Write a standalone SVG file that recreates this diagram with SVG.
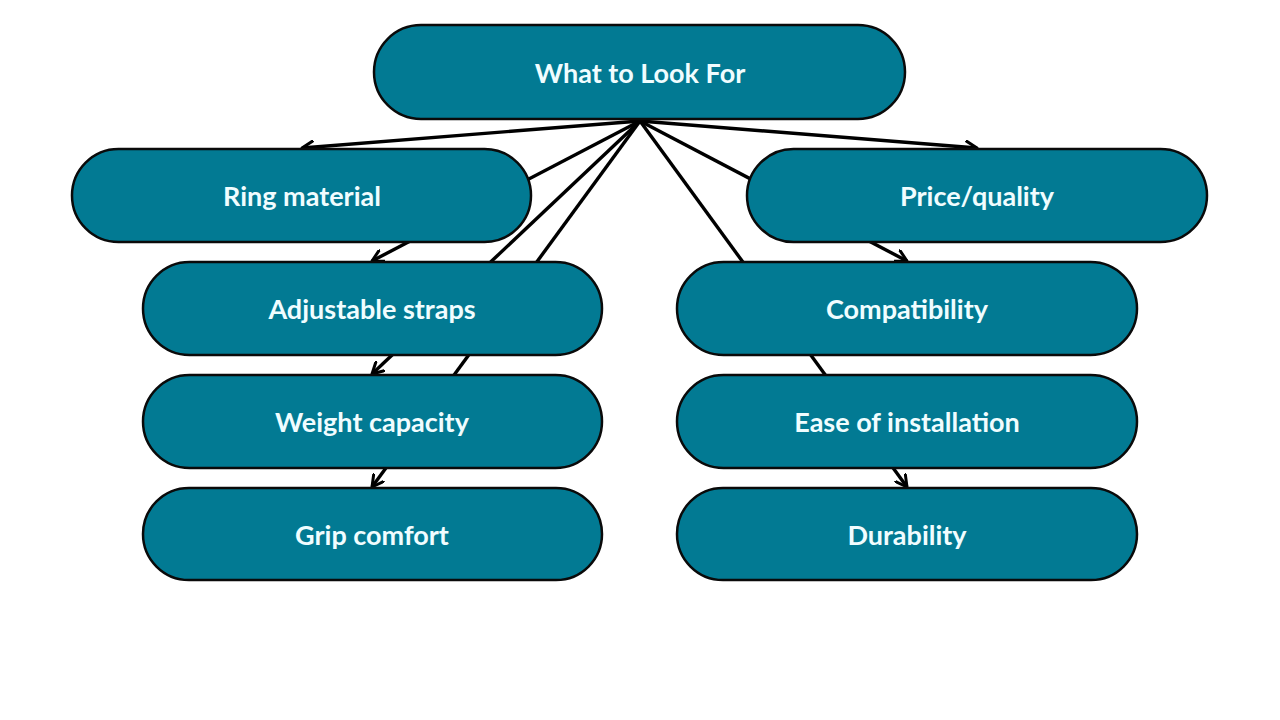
<svg xmlns="http://www.w3.org/2000/svg" width="1280" height="720" viewBox="0 0 1280 720">
<style>
.node rect{fill:#027a93;stroke:#0a0a0a;stroke-width:2.5}
.node text{fill:#f0fdff;font-family:Lato,"Noto Sans",sans-serif;font-weight:bold;font-size:27px;text-anchor:middle;dominant-baseline:central}
.edge{stroke:#000;stroke-width:3.4;fill:none;marker-end:url(#arr)}
</style>
<defs>
<marker id="arr" viewBox="0 0 14 14" refX="12" refY="7" markerWidth="14" markerHeight="14" markerUnits="userSpaceOnUse" orient="auto">
<path d="M1,1 L12,7 L1,13" fill="none" stroke="#000" stroke-width="3" stroke-linecap="round" stroke-linejoin="round"/>
</marker>
</defs>
<rect width="1280" height="720" fill="#fff"/>
<g id="connectors">
<line class="edge" x1="640" y1="121" x2="302" y2="148"/>
<line class="edge" x1="640" y1="121" x2="977" y2="148"/>
<line class="edge" x1="640" y1="121" x2="372" y2="261"/>
<line class="edge" x1="640" y1="121" x2="907" y2="261"/>
<line class="edge" x1="640" y1="121" x2="372" y2="374"/>
<line class="edge" x1="640" y1="121" x2="372" y2="487"/>
<line class="edge" x1="640" y1="121" x2="907" y2="487"/>
</g>
<g id="n-root" class="node"><rect x="374" y="25" width="531" height="94" rx="47"/><text x="640" y="72">What to Look For</text></g>
<g id="n-ring" class="node"><rect x="72" y="149" width="459" height="93" rx="46.5"/><text x="302" y="195">Ring material</text></g>
<g id="n-price" class="node"><rect x="747" y="149" width="460" height="93" rx="46.5"/><text x="977" y="195">Price/quality</text></g>
<g id="n-straps" class="node"><rect x="143" y="262" width="459" height="93" rx="46.5"/><text x="372" y="308">Adjustable straps</text></g>
<g id="n-compat" class="node"><rect x="677" y="262" width="460" height="93" rx="46.5"/><text x="907" y="308">Compatibility</text></g>
<g id="n-weight" class="node"><rect x="143" y="375" width="459" height="93" rx="46.5"/><text x="372" y="421">Weight capacity</text></g>
<g id="n-ease" class="node"><rect x="677" y="375" width="460" height="93" rx="46.5"/><text x="907" y="421">Ease of installation</text></g>
<g id="n-grip" class="node"><rect x="143" y="488" width="459" height="92" rx="46"/><text x="372" y="534">Grip comfort</text></g>
<g id="n-dura" class="node"><rect x="677" y="488" width="460" height="92" rx="46"/><text x="907" y="534">Durability</text></g>
</svg>
